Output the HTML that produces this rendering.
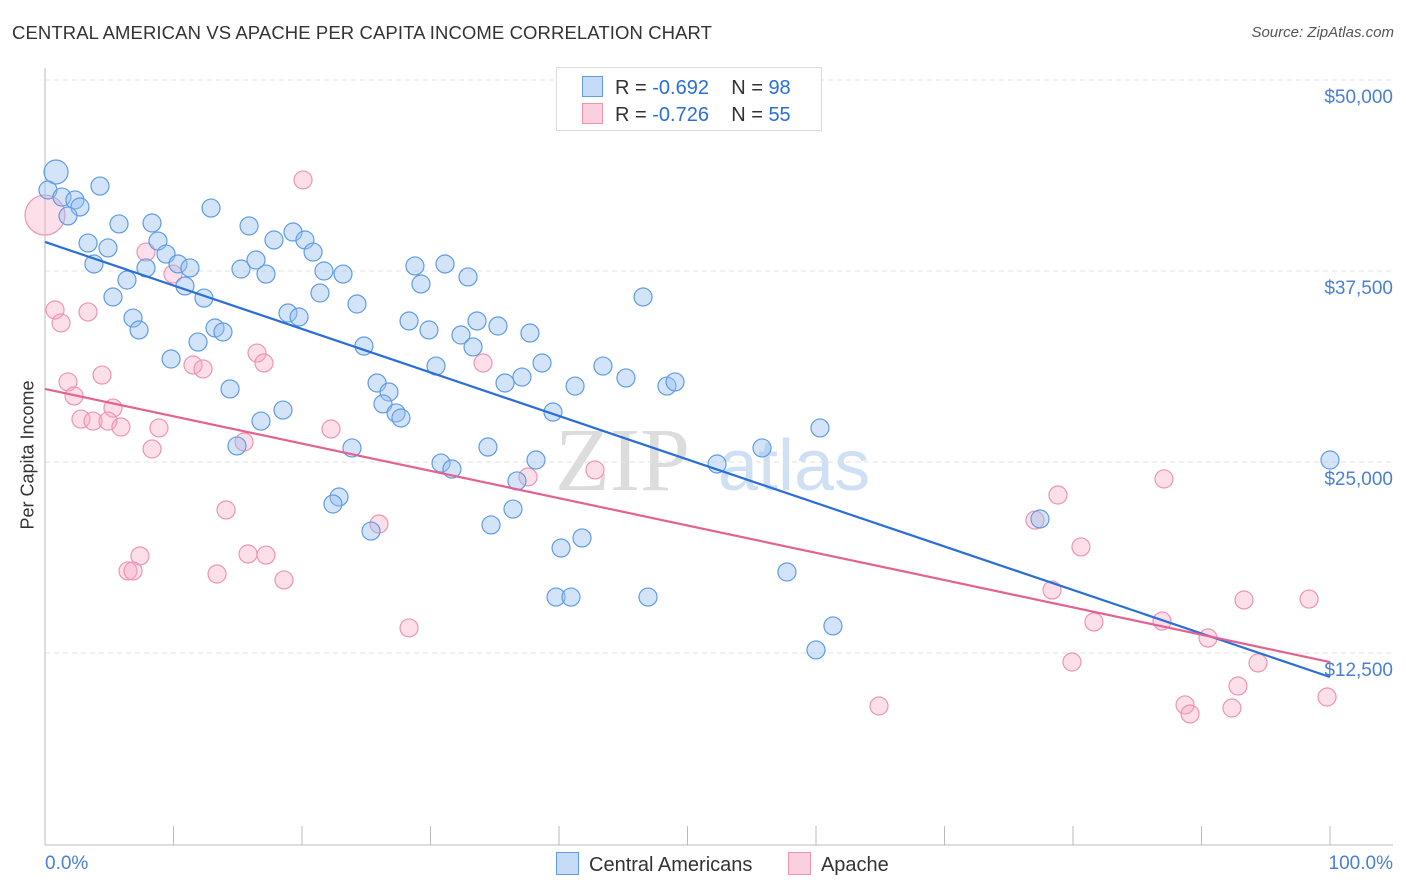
<!DOCTYPE html>
<html><head><meta charset="utf-8"><style>
body{margin:0;background:#fff;font-family:"Liberation Sans",sans-serif;}
#wrap{position:relative;width:1406px;height:892px;overflow:hidden;}
</style></head><body>
<div id="wrap">
<svg id="chart" width="1406" height="892"></svg>
</div>
<script>
const blueX=[0.86,0.23,1.32,2.33,2.72,1.79,4.28,12.92,5.76,8.33,15.88,3.35,4.90,8.79,17.82,19.30,20.23,20.86,3.81,6.38,7.86,9.42,10.35,11.28,15.25,16.42,17.20,21.71,23.19,28.79,31.13,32.92,29.26,5.29,10.89,12.37,21.40,24.28,46.54,6.85,7.32,13.23,13.85,11.91,18.91,19.77,28.33,29.88,24.82,32.37,33.62,33.31,35.25,37.74,9.81,30.43,38.68,43.42,25.84,26.77,26.30,14.40,18.52,16.81,27.32,27.70,35.80,37.12,41.25,45.21,48.40,49.03,39.53,34.47,14.94,23.89,30.82,31.67,38.21,36.73,52.30,55.80,60.31,22.88,22.41,25.37,34.71,36.42,40.16,41.79,39.77,40.93,46.93,57.74,61.32,60.00,77.43,100];
const blueY=[43.98,42.80,42.34,42.15,41.69,41.10,43.06,41.62,40.58,40.64,40.45,39.33,39.01,39.46,39.53,40.05,39.53,38.74,37.96,36.91,37.70,38.61,37.96,37.70,37.63,38.22,37.30,37.50,37.30,37.83,37.96,37.11,36.65,35.80,36.52,35.73,36.06,35.34,35.80,34.42,33.64,33.77,33.51,32.85,34.75,34.49,34.23,33.64,32.59,33.31,34.23,32.53,33.90,33.44,31.74,31.28,31.48,31.28,30.17,29.58,28.80,29.78,28.40,27.68,28.21,27.88,30.17,30.56,29.97,30.50,29.97,30.24,28.27,25.98,26.05,25.92,24.93,24.54,25.13,23.76,24.87,25.92,27.23,22.71,22.25,20.48,20.88,21.92,19.37,20.03,16.16,16.16,16.16,17.80,14.27,12.70,21.27,25.13];
const pinkX=[0,0.78,1.25,3.35,1.79,2.26,4.44,5.29,2.80,3.74,4.90,5.91,8.33,8.87,7.86,9.96,11.52,12.30,16.50,17.04,15.49,14.09,20.08,22.26,34.09,42.80,37.59,25.99,15.80,17.20,7.39,6.46,6.85,13.39,18.60,28.33,64.90,78.83,77.04,80.62,78.37,81.63,79.92,87.08,86.93,90.51,93.31,98.37,94.40,92.84,99.77,88.72,89.11,92.37];
const pinkY=[41.16,34.95,34.10,34.82,30.24,29.32,30.69,28.53,27.81,27.68,27.68,27.29,25.85,27.23,38.74,37.30,31.35,31.09,32.13,31.48,26.31,21.86,43.46,27.16,31.48,24.48,24.02,20.94,18.98,18.91,18.85,17.87,17.87,17.67,17.28,14.14,9.03,22.84,21.20,19.44,16.62,14.53,11.91,23.89,14.59,13.48,15.97,16.03,11.85,10.34,9.62,9.10,8.51,8.90];
const blueTrend=[39.40,10.93];
const pinkTrend=[29.78,11.91];
const yTicks=[12.5,25,37.5,50];
const yTickLabels=["$12,500","$25,000","$37,500","$50,000"];
const xTickCount=10;

const NS="http://www.w3.org/2000/svg";
const svg=document.getElementById('chart');
const X0=45,X1=1330,YB=844;
const sx=v=>X0+(X1-X0)*v/100;
const sy=v=>YB-v*191/12.5;
function mk(t,a,p){const e=document.createElementNS(NS,t);for(const k in a)e.setAttribute(k,a[k]);(p||svg).appendChild(e);return e;}

let wm=mk('text',{x:555,y:490,'font-size':90,'font-family':'Liberation Serif, serif',fill:'#dcdcdc'});wm.textContent='ZIP';


let wm2=mk('text',{x:718,y:490,'font-size':72,fill:'#cfe0f4'});wm2.textContent='atlas';



yTicks.forEach((v,i)=>{
 const g=mk('line',{x1:X0,x2:1393,y1:sy(v),y2:sy(v),stroke:'#e2e2e2','stroke-dasharray':'5,4'});
 
 
 const t=mk('text',{x:1393,y:sy(v)+23,'text-anchor':'end','font-size':19,fill:'#4a7fd6'});t.textContent=yTickLabels[i];
 
 
});
let ax=mk('line',{x1:X0,x2:X0,y1:68,y2:845,stroke:'#bbb'});


let bx=mk('line',{x1:X0,x2:1393,y1:845,y2:845,stroke:'#bbb'});


for(let i=0;i<=xTickCount;i++){
 const tk=mk('line',{x1:sx(i*10),x2:sx(i*10),y1:826,y2:845,stroke:'#bbb'});
 
 
}
function pts(xs,ys,fill,stroke,name){
 xs.forEach((x,i)=>{
  const big=(i===0);
  const c=mk('circle',{cx:sx(x),cy:sy(ys[i]),r:big?(name==='pink-point'?20:12):9,fill:fill,stroke:stroke,'stroke-width':1.2});
  
  
 });
}
pts(pinkX,pinkY,'rgba(246,170,196,0.38)','#ee94b4','pink-point');
pts(blueX,blueY,'rgba(150,190,240,0.42)','#5f9ce6','blue-point');
let bl=mk('line',{x1:sx(0),y1:sy(blueTrend[0]),x2:sx(100),y2:sy(blueTrend[1]),stroke:'#2a6fd6','stroke-width':2.2});


let pl=mk('line',{x1:sx(0),y1:sy(pinkTrend[0]),x2:sx(100),y2:sy(pinkTrend[1]),stroke:'#e3628f','stroke-width':2.2});


</script>
<div style="position:absolute;left:12px;top:22px;font-size:18.5px;color:#333;letter-spacing:0.1px">CENTRAL AMERICAN VS APACHE PER CAPITA INCOME CORRELATION CHART</div>
<div style="position:absolute;right:12px;top:24px;font-size:15px;color:#555;font-style:italic">Source: ZipAtlas.com</div>
<div style="position:absolute;left:28px;top:455px;transform:translate(-50%,-50%) rotate(-90deg);font-size:18px;color:#333;white-space:nowrap">Per Capita Income</div>
<div style="position:absolute;left:45px;top:853px;font-size:19px;color:#4a7fd6">0.0%</div>
<div style="position:absolute;right:13px;top:853px;font-size:19px;color:#4a7fd6">100.0%</div>
<div style="position:absolute;left:556px;top:67px;width:264px;height:62px;border:1px solid #ddd;background:#fff;font-size:20px;color:#333">
 <div style="position:absolute;left:25px;top:8px;white-space:nowrap"><span style="display:inline-block;width:19px;height:19px;background:rgba(150,190,240,0.55);border:1px solid #5f9ce6;vertical-align:-3px;margin-right:12px"></span>R = <span style="color:#2a6fd6">-0.692</span>&nbsp;&nbsp;&nbsp; N = <span style="color:#2a6fd6">98</span></div>
 <div style="position:absolute;left:25px;top:35px;white-space:nowrap"><span style="display:inline-block;width:19px;height:19px;background:rgba(246,170,196,0.55);border:1px solid #ee94b4;vertical-align:-3px;margin-right:12px"></span>R = <span style="color:#2a6fd6">-0.726</span>&nbsp;&nbsp;&nbsp; N = <span style="color:#2a6fd6">55</span></div>
</div>
<div style="position:absolute;left:556px;top:852px;font-size:20px;color:#333;white-space:nowrap">
 <span><span style="display:inline-block;width:21px;height:21px;background:rgba(150,190,240,0.55);border:1px solid #5f9ce6;vertical-align:-4px;margin-right:10px"></span>Central Americans</span>
 <span style="margin-left:30px"><span style="display:inline-block;width:21px;height:21px;background:rgba(246,170,196,0.55);border:1px solid #ee94b4;vertical-align:-4px;margin-right:10px"></span>Apache</span>
</div>
</body></html>
